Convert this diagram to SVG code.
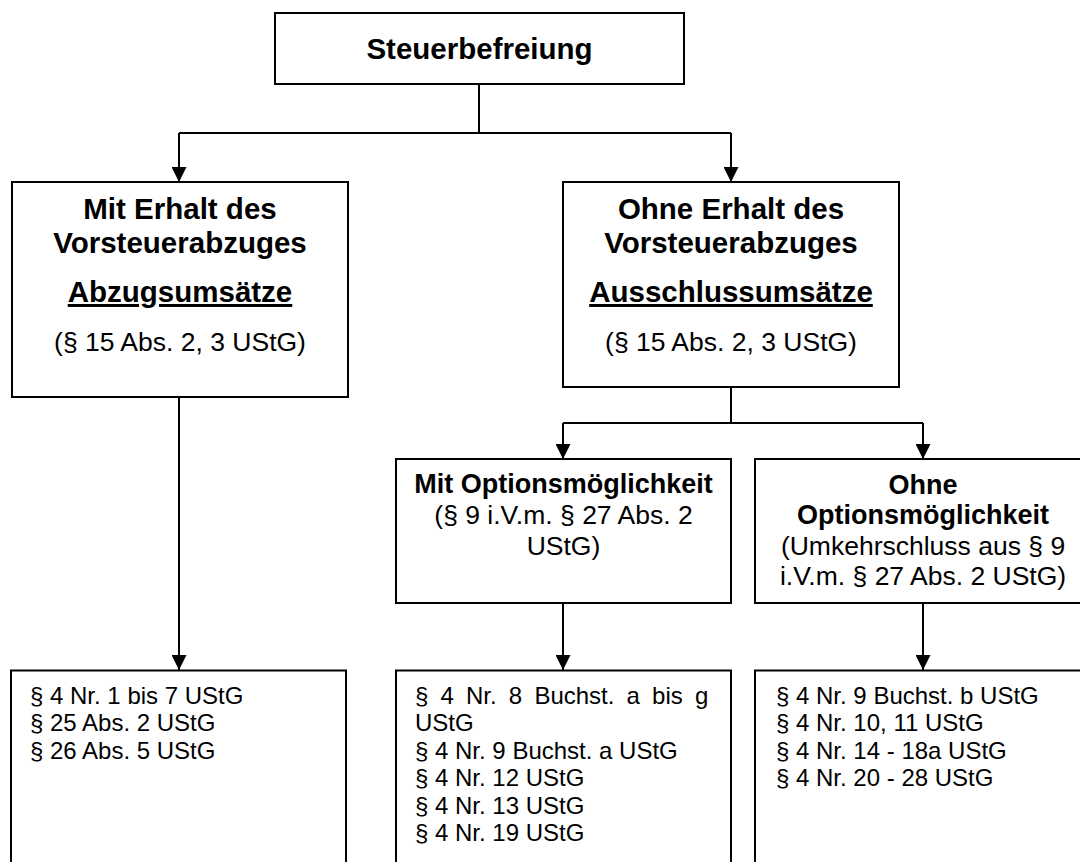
<svg xmlns="http://www.w3.org/2000/svg" width="1080" height="862" viewBox="0 0 1080 862">
<style>
  .box { fill: #ffffff; stroke: #000000; stroke-width: 2; }
  .con { fill: none; stroke: #000000; stroke-width: 2; }
  text { font-family: "Liberation Sans", Arial, sans-serif; fill: #000000; }
  .t29 { font-size: 29.5px; font-weight: bold; text-anchor: middle; }
  .t27 { font-size: 27px; font-weight: bold; text-anchor: middle; }
  .r26 { font-size: 26.5px; text-anchor: middle; }
  .l24 { font-size: 24px; }
</style>
<defs>
  <marker id="arr" viewBox="0 0 15 15" refX="15" refY="7.5" markerWidth="15" markerHeight="15" markerUnits="userSpaceOnUse" orient="auto">
    <path d="M0,0 L15,7.5 L0,15 z" fill="#000000"/>
  </marker>
</defs>
<rect width="1080" height="862" fill="#ffffff"/>
<g id="connectors">
  <path class="con" d="M479,84 V133"/>
  <path class="con" d="M179,133 H731"/>
  <path class="con" d="M179,133 V182" marker-end="url(#arr)"/>
  <path class="con" d="M731,133 V182" marker-end="url(#arr)"/>
  <path class="con" d="M731,387 V423"/>
  <path class="con" d="M563,423 H923"/>
  <path class="con" d="M563,423 V459" marker-end="url(#arr)"/>
  <path class="con" d="M923,423 V459" marker-end="url(#arr)"/>
  <path class="con" d="M179,397 V670" marker-end="url(#arr)"/>
  <path class="con" d="M563,603 V670" marker-end="url(#arr)"/>
  <path class="con" d="M923,603 V670" marker-end="url(#arr)"/>
</g>
<g id="steuerbefreiung">
  <rect class="box" x="275" y="13" width="409" height="71"/>
  <text class="t29" x="479.5" y="59">Steuerbefreiung</text>
</g>
<g id="mit-erhalt">
  <rect class="box" x="12" y="182" width="336" height="215"/>
  <text class="t29" x="180" y="219">Mit Erhalt des</text>
  <text class="t29" x="180" y="253">Vorsteuerabzuges</text>
  <text class="t29" x="180" y="302" text-decoration="underline">Abzugsumsätze</text>
  <text class="r26" x="180" y="351">(§ 15 Abs. 2, 3 UStG)</text>
</g>
<g id="ohne-erhalt">
  <rect class="box" x="563" y="182" width="336" height="205"/>
  <text class="t29" x="731" y="219">Ohne Erhalt des</text>
  <text class="t29" x="731" y="253">Vorsteuerabzuges</text>
  <text class="t29" x="731" y="302" text-decoration="underline">Ausschlussumsätze</text>
  <text class="r26" x="731" y="351">(§ 15 Abs. 2, 3 UStG)</text>
</g>
<g id="mit-option">
  <rect class="box" x="396" y="459" width="335" height="144"/>
  <text class="t27" x="563.5" y="493">Mit Optionsmöglichkeit</text>
  <text class="r26" x="563.5" y="524">(§ 9 i.V.m. § 27 Abs. 2</text>
  <text class="r26" x="563.5" y="555">UStG)</text>
</g>
<g id="ohne-option">
  <rect class="box" x="755" y="459" width="336" height="144"/>
  <text class="t27" x="923" y="494">Ohne</text>
  <text class="t27" x="923" y="524">Optionsmöglichkeit</text>
  <text class="r26" x="923" y="555">(Umkehrschluss aus § 9</text>
  <text class="r26" x="923" y="585">i.V.m. § 27 Abs. 2 UStG)</text>
</g>
<g id="abzug-liste">
  <rect class="box" x="11" y="670.5" width="335" height="200"/>
  <text class="l24" x="30" y="703.5">§ 4 Nr. 1 bis 7 UStG</text>
  <text class="l24" x="30" y="731">§ 25 Abs. 2 UStG</text>
  <text class="l24" x="30" y="758.5">§ 26 Abs. 5 UStG</text>
</g>
<g id="mit-option-liste">
  <rect class="box" x="396" y="670.5" width="335" height="200"/>
  <text class="l24" x="415" y="703.5" word-spacing="5.5">§ 4 Nr. 8 Buchst. a bis g</text>
  <text class="l24" x="415" y="731">UStG</text>
  <text class="l24" x="415" y="758.5">§ 4 Nr. 9 Buchst. a UStG</text>
  <text class="l24" x="415" y="786">§ 4 Nr. 12 UStG</text>
  <text class="l24" x="415" y="813.5">§ 4 Nr. 13 UStG</text>
  <text class="l24" x="415" y="841">§ 4 Nr. 19 UStG</text>
</g>
<g id="ohne-option-liste">
  <rect class="box" x="755" y="670.5" width="336" height="200"/>
  <text class="l24" x="776" y="703.5">§ 4 Nr. 9 Buchst. b UStG</text>
  <text class="l24" x="776" y="731">§ 4 Nr. 10, 11 UStG</text>
  <text class="l24" x="776" y="758.5">§ 4 Nr. 14 - 18a UStG</text>
  <text class="l24" x="776" y="786">§ 4 Nr. 20 - 28 UStG</text>
</g>
</svg>
